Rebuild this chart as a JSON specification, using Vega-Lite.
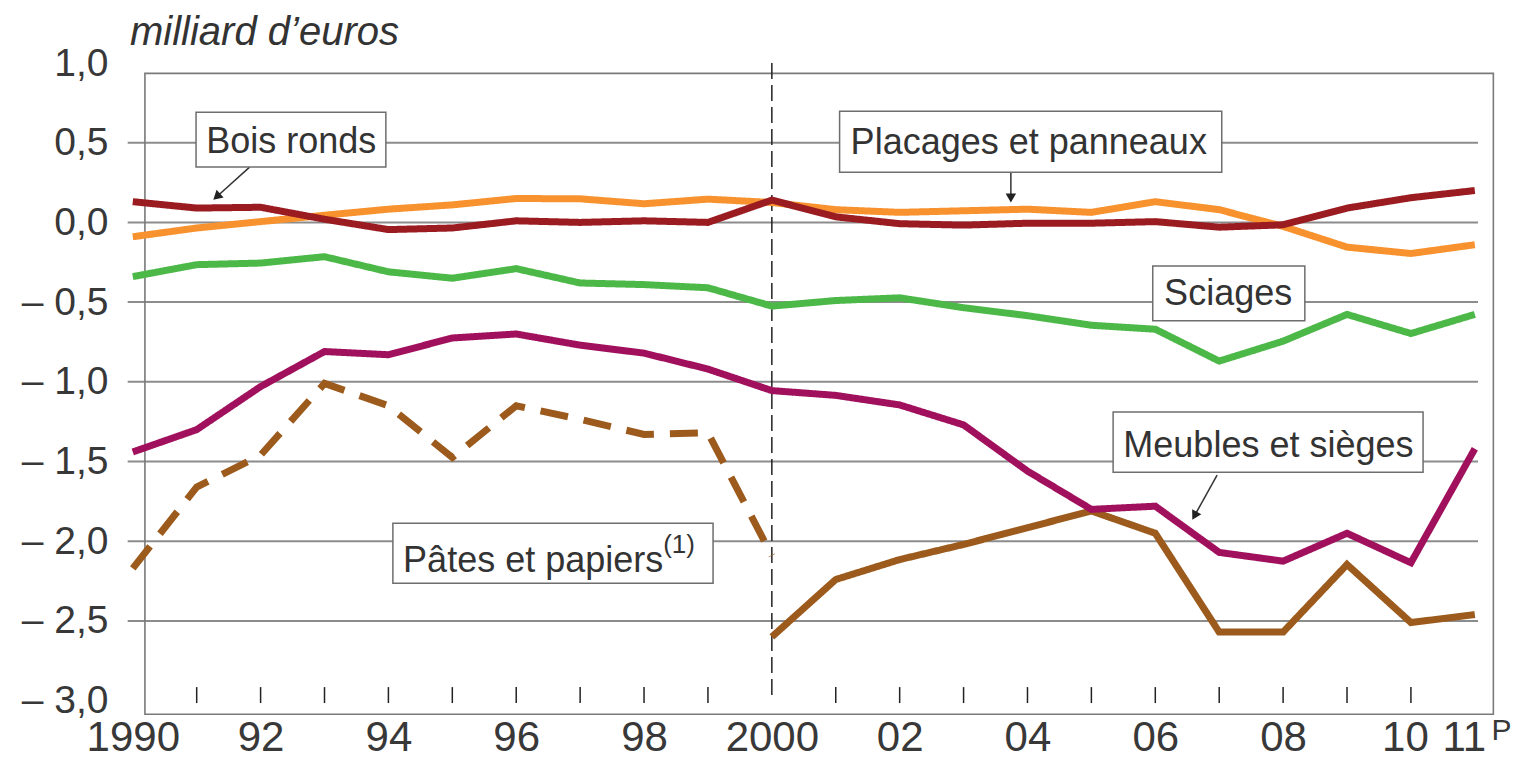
{
  "$schema": "https://vega.github.io/schema/vega-lite/v6.json",
  "width": 1374,
  "height": 652,
  "autosize": "none",
  "padding": {"left": 120, "top": 63, "right": 22, "bottom": 45},
  "background": "white",
  "config": {"view": {"stroke": null}, "font": "Liberation Sans"},
  "datasets": {
    "series": [
      {"annee": 1990, "serie": "Placages et panneaux", "valeur": -0.09},
      {"annee": 1991, "serie": "Placages et panneaux", "valeur": -0.035},
      {"annee": 1992, "serie": "Placages et panneaux", "valeur": 0.005},
      {"annee": 1993, "serie": "Placages et panneaux", "valeur": 0.045},
      {"annee": 1994, "serie": "Placages et panneaux", "valeur": 0.083},
      {"annee": 1995, "serie": "Placages et panneaux", "valeur": 0.11},
      {"annee": 1996, "serie": "Placages et panneaux", "valeur": 0.15},
      {"annee": 1997, "serie": "Placages et panneaux", "valeur": 0.148},
      {"annee": 1998, "serie": "Placages et panneaux", "valeur": 0.117},
      {"annee": 1999, "serie": "Placages et panneaux", "valeur": 0.146},
      {"annee": 2000, "serie": "Placages et panneaux", "valeur": 0.125},
      {"annee": 2001, "serie": "Placages et panneaux", "valeur": 0.08},
      {"annee": 2002, "serie": "Placages et panneaux", "valeur": 0.063},
      {"annee": 2003, "serie": "Placages et panneaux", "valeur": 0.073},
      {"annee": 2004, "serie": "Placages et panneaux", "valeur": 0.083},
      {"annee": 2005, "serie": "Placages et panneaux", "valeur": 0.063},
      {"annee": 2006, "serie": "Placages et panneaux", "valeur": 0.13},
      {"annee": 2007, "serie": "Placages et panneaux", "valeur": 0.08},
      {"annee": 2008, "serie": "Placages et panneaux", "valeur": -0.025},
      {"annee": 2009, "serie": "Placages et panneaux", "valeur": -0.155},
      {"annee": 2010, "serie": "Placages et panneaux", "valeur": -0.195},
      {"annee": 2011, "serie": "Placages et panneaux", "valeur": -0.14},
      {"annee": 1990, "serie": "Sciages", "valeur": -0.34},
      {"annee": 1991, "serie": "Sciages", "valeur": -0.265},
      {"annee": 1992, "serie": "Sciages", "valeur": -0.255},
      {"annee": 1993, "serie": "Sciages", "valeur": -0.215},
      {"annee": 1994, "serie": "Sciages", "valeur": -0.31},
      {"annee": 1995, "serie": "Sciages", "valeur": -0.35},
      {"annee": 1996, "serie": "Sciages", "valeur": -0.29},
      {"annee": 1997, "serie": "Sciages", "valeur": -0.38},
      {"annee": 1998, "serie": "Sciages", "valeur": -0.39},
      {"annee": 1999, "serie": "Sciages", "valeur": -0.41},
      {"annee": 2000, "serie": "Sciages", "valeur": -0.525},
      {"annee": 2001, "serie": "Sciages", "valeur": -0.49},
      {"annee": 2002, "serie": "Sciages", "valeur": -0.473},
      {"annee": 2003, "serie": "Sciages", "valeur": -0.535},
      {"annee": 2004, "serie": "Sciages", "valeur": -0.585},
      {"annee": 2005, "serie": "Sciages", "valeur": -0.645},
      {"annee": 2006, "serie": "Sciages", "valeur": -0.67},
      {"annee": 2007, "serie": "Sciages", "valeur": -0.87},
      {"annee": 2008, "serie": "Sciages", "valeur": -0.745},
      {"annee": 2009, "serie": "Sciages", "valeur": -0.577},
      {"annee": 2010, "serie": "Sciages", "valeur": -0.697},
      {"annee": 2011, "serie": "Sciages", "valeur": -0.577},
      {"annee": 1990, "serie": "Pâtes et papiers 1990-2000", "valeur": -2.17},
      {"annee": 1991, "serie": "Pâtes et papiers 1990-2000", "valeur": -1.66},
      {"annee": 1992, "serie": "Pâtes et papiers 1990-2000", "valeur": -1.46},
      {"annee": 1993, "serie": "Pâtes et papiers 1990-2000", "valeur": -1.01},
      {"annee": 1994, "serie": "Pâtes et papiers 1990-2000", "valeur": -1.15},
      {"annee": 1995, "serie": "Pâtes et papiers 1990-2000", "valeur": -1.475},
      {"annee": 1996, "serie": "Pâtes et papiers 1990-2000", "valeur": -1.15},
      {"annee": 1997, "serie": "Pâtes et papiers 1990-2000", "valeur": -1.235},
      {"annee": 1998, "serie": "Pâtes et papiers 1990-2000", "valeur": -1.33},
      {"annee": 1999, "serie": "Pâtes et papiers 1990-2000", "valeur": -1.32},
      {"annee": 2000, "serie": "Pâtes et papiers 1990-2000", "valeur": -2.09},
      {"annee": 2000, "serie": "Pâtes et papiers 2000-2011", "valeur": -2.6},
      {"annee": 2001, "serie": "Pâtes et papiers 2000-2011", "valeur": -2.24},
      {"annee": 2002, "serie": "Pâtes et papiers 2000-2011", "valeur": -2.115},
      {"annee": 2003, "serie": "Pâtes et papiers 2000-2011", "valeur": -2.02},
      {"annee": 2004, "serie": "Pâtes et papiers 2000-2011", "valeur": -1.915},
      {"annee": 2005, "serie": "Pâtes et papiers 2000-2011", "valeur": -1.81},
      {"annee": 2006, "serie": "Pâtes et papiers 2000-2011", "valeur": -1.95},
      {"annee": 2007, "serie": "Pâtes et papiers 2000-2011", "valeur": -2.57},
      {"annee": 2008, "serie": "Pâtes et papiers 2000-2011", "valeur": -2.57},
      {"annee": 2009, "serie": "Pâtes et papiers 2000-2011", "valeur": -2.146},
      {"annee": 2010, "serie": "Pâtes et papiers 2000-2011", "valeur": -2.51},
      {"annee": 2011, "serie": "Pâtes et papiers 2000-2011", "valeur": -2.46},
      {"annee": 1990, "serie": "Bois ronds", "valeur": 0.13},
      {"annee": 1991, "serie": "Bois ronds", "valeur": 0.09},
      {"annee": 1992, "serie": "Bois ronds", "valeur": 0.095},
      {"annee": 1993, "serie": "Bois ronds", "valeur": 0.02},
      {"annee": 1994, "serie": "Bois ronds", "valeur": -0.045},
      {"annee": 1995, "serie": "Bois ronds", "valeur": -0.035},
      {"annee": 1996, "serie": "Bois ronds", "valeur": 0.01},
      {"annee": 1997, "serie": "Bois ronds", "valeur": 0.0},
      {"annee": 1998, "serie": "Bois ronds", "valeur": 0.01},
      {"annee": 1999, "serie": "Bois ronds", "valeur": 0.0},
      {"annee": 2000, "serie": "Bois ronds", "valeur": 0.14},
      {"annee": 2001, "serie": "Bois ronds", "valeur": 0.035},
      {"annee": 2002, "serie": "Bois ronds", "valeur": -0.008},
      {"annee": 2003, "serie": "Bois ronds", "valeur": -0.017},
      {"annee": 2004, "serie": "Bois ronds", "valeur": -0.005},
      {"annee": 2005, "serie": "Bois ronds", "valeur": -0.005},
      {"annee": 2006, "serie": "Bois ronds", "valeur": 0.005},
      {"annee": 2007, "serie": "Bois ronds", "valeur": -0.03},
      {"annee": 2008, "serie": "Bois ronds", "valeur": -0.015},
      {"annee": 2009, "serie": "Bois ronds", "valeur": 0.09},
      {"annee": 2010, "serie": "Bois ronds", "valeur": 0.155},
      {"annee": 2011, "serie": "Bois ronds", "valeur": 0.2},
      {"annee": 1990, "serie": "Meubles et sièges", "valeur": -1.44},
      {"annee": 1991, "serie": "Meubles et sièges", "valeur": -1.3},
      {"annee": 1992, "serie": "Meubles et sièges", "valeur": -1.03},
      {"annee": 1993, "serie": "Meubles et sièges", "valeur": -0.81},
      {"annee": 1994, "serie": "Meubles et sièges", "valeur": -0.83},
      {"annee": 1995, "serie": "Meubles et sièges", "valeur": -0.725},
      {"annee": 1996, "serie": "Meubles et sièges", "valeur": -0.7},
      {"annee": 1997, "serie": "Meubles et sièges", "valeur": -0.77},
      {"annee": 1998, "serie": "Meubles et sièges", "valeur": -0.82},
      {"annee": 1999, "serie": "Meubles et sièges", "valeur": -0.92},
      {"annee": 2000, "serie": "Meubles et sièges", "valeur": -1.055},
      {"annee": 2001, "serie": "Meubles et sièges", "valeur": -1.085},
      {"annee": 2002, "serie": "Meubles et sièges", "valeur": -1.145},
      {"annee": 2003, "serie": "Meubles et sièges", "valeur": -1.27},
      {"annee": 2004, "serie": "Meubles et sièges", "valeur": -1.56},
      {"annee": 2005, "serie": "Meubles et sièges", "valeur": -1.8},
      {"annee": 2006, "serie": "Meubles et sièges", "valeur": -1.78},
      {"annee": 2007, "serie": "Meubles et sièges", "valeur": -2.07},
      {"annee": 2008, "serie": "Meubles et sièges", "valeur": -2.125},
      {"annee": 2009, "serie": "Meubles et sièges", "valeur": -1.95},
      {"annee": 2010, "serie": "Meubles et sièges", "valeur": -2.135},
      {"annee": 2011, "serie": "Meubles et sièges", "valeur": -1.42}
    ],
    "grille": [
      {"niveau": 0.5}, {"niveau": 0.0}, {"niveau": -0.5}, {"niveau": -1.0},
      {"niveau": -1.5}, {"niveau": -2.0}, {"niveau": -2.5}
    ],
    "graduations": [
      {"annee": 1991}, {"annee": 1992}, {"annee": 1993}, {"annee": 1994}, {"annee": 1995},
      {"annee": 1996}, {"annee": 1997}, {"annee": 1998}, {"annee": 1999}, {"annee": 2001},
      {"annee": 2002}, {"annee": 2003}, {"annee": 2004}, {"annee": 2005}, {"annee": 2006},
      {"annee": 2007}, {"annee": 2008}, {"annee": 2009}, {"annee": 2010}
    ]
  },
  "layer": [
    {
      "data": {"name": "grille"},
      "mark": {"type": "rule", "stroke": "#8c8c8c", "strokeWidth": 2},
      "encoding": {
        "y": {"field": "niveau", "type": "quantitative"},
        "x": {"datum": 1989.92, "type": "quantitative"},
        "x2": {"datum": 2011.05}
      }
    },
    {
      "data": {"values": [{}]},
      "mark": {"type": "rect", "fillOpacity": 0, "stroke": "#7a7a7a", "strokeWidth": 1.6},
      "encoding": {
        "x": {"datum": 1990.19, "type": "quantitative"},
        "x2": {"datum": 2011.29},
        "y": {"datum": 0.935, "type": "quantitative"},
        "y2": {"datum": -3.085}
      }
    },
    {
      "data": {"name": "graduations"},
      "mark": {"type": "rule", "stroke": "#222", "strokeWidth": 1.5},
      "encoding": {
        "x": {"field": "annee", "type": "quantitative"},
        "y": {"datum": -2.915, "type": "quantitative"},
        "y2": {"datum": -3.015}
      }
    },
    {
      "data": {"values": [{}]},
      "mark": {"type": "rule", "stroke": "#222", "strokeWidth": 1.5, "strokeDash": [16, 6]},
      "encoding": {
        "x": {"datum": 2000, "type": "quantitative"},
        "y": {"datum": 1.0, "type": "quantitative"},
        "y2": {"datum": -3.0}
      }
    },
    {
      "data": {"name": "series"},
      "mark": {"type": "line", "strokeWidth": 7, "strokeCap": "butt"},
      "encoding": {
        "x": {
          "field": "annee",
          "type": "quantitative",
          "scale": {"domain": [1989.8, 2011.3], "nice": false, "zero": false},
          "axis": {
            "values": [1990, 1992, 1994, 1996, 1998, 2000, 2002, 2004, 2006, 2008, 2010, 2011],
            "labelExpr": "datum.value == 1990 || datum.value == 2000 ? format(datum.value, 'd') : slice(format(datum.value, 'd'), 2)",
            "title": null,
            "grid": false,
            "ticks": false,
            "domain": false,
            "labelFont": "Liberation Sans",
            "labelFontSize": 42,
            "labelColor": "#383838",
            "labelPadding": 2,
            "labelOverlap": false,
            "labelFlush": false,
            "labelOffset": {"condition": [{"test": "datum.value == 2011", "value": -11}, {"test": "datum.value == 2010", "value": -6}], "value": 0}
          }
        },
        "y": {
          "field": "valeur",
          "type": "quantitative",
          "scale": {"domain": [-3.09, 1.0], "nice": false, "zero": false},
          "axis": {
            "values": [1, 0.5, 0, -0.5, -1, -1.5, -2, -2.5, -3],
            "labelExpr": "(datum.value < 0 ? '– ' : '') + replace(format(abs(datum.value), '.1f'), '.', ',')",
            "title": null,
            "grid": false,
            "ticks": false,
            "domain": false,
            "labelFontSize": 39,
            "labelColor": "#383838",
            "labelPadding": 12,
            "labelOverlap": false,
            "labelFlush": false
          }
        },
        "color": {
          "field": "serie",
          "type": "nominal",
          "legend": null,
          "scale": {
            "domain": ["Placages et panneaux", "Sciages", "Pâtes et papiers 1990-2000", "Pâtes et papiers 2000-2011", "Bois ronds", "Meubles et sièges"],
            "range": ["#f7922f", "#4cb848", "#9c5a1c", "#9c5a1c", "#9a1b20", "#a0105d"]
          }
        },
        "strokeDash": {
          "field": "serie",
          "type": "nominal",
          "legend": null,
          "scale": {
            "domain": ["Placages et panneaux", "Sciages", "Pâtes et papiers 1990-2000", "Pâtes et papiers 2000-2011", "Bois ronds", "Meubles et sièges"],
            "range": [[1, 0], [1, 0], [28, 16], [1, 0], [1, 0], [1, 0]]
          }
        }
      }
    },
    {
      "data": {"values": [{}]},
      "mark": {"type": "rule", "stroke": "#333", "strokeWidth": 1.5},
      "encoding": {
        "x": {"datum": 1991.828, "type": "quantitative"},
        "y": {"datum": 0.347, "type": "quantitative"},
        "x2": {"datum": 1991.313},
        "y2": {"datum": 0.161}
      }
    },
    {
      "data": {"values": [{}]},
      "mark": {"type": "point", "shape": "triangle-down", "filled": true, "color": "#222", "size": 110, "opacity": 1, "angle": 48},
      "encoding": {
        "x": {"datum": 1991.313, "type": "quantitative"},
        "y": {"datum": 0.161, "type": "quantitative"}
      }
    },
    {
      "data": {"values": [{}]},
      "mark": {"type": "rule", "stroke": "#333", "strokeWidth": 1.5},
      "encoding": {
        "x": {"datum": 2003.74, "type": "quantitative"},
        "y": {"datum": 0.315, "type": "quantitative"},
        "y2": {"datum": 0.153}
      }
    },
    {
      "data": {"values": [{}]},
      "mark": {"type": "point", "shape": "triangle-down", "filled": true, "color": "#222", "size": 110, "opacity": 1},
      "encoding": {
        "x": {"datum": 2003.74, "type": "quantitative"},
        "y": {"datum": 0.153, "type": "quantitative"}
      }
    },
    {
      "data": {"values": [{}]},
      "mark": {"type": "rule", "stroke": "#333", "strokeWidth": 1.5},
      "encoding": {
        "x": {"datum": 2006.967, "type": "quantitative"},
        "y": {"datum": -1.585, "type": "quantitative"},
        "x2": {"datum": 2006.614},
        "y2": {"datum": -1.84}
      }
    },
    {
      "data": {"values": [{}]},
      "mark": {"type": "point", "shape": "triangle-down", "filled": true, "color": "#222", "size": 110, "opacity": 1, "angle": 29},
      "encoding": {
        "x": {"datum": 2006.614, "type": "quantitative"},
        "y": {"datum": -1.84, "type": "quantitative"}
      }
    },
    {
      "data": {"values": [{}]},
      "mark": {"type": "rect", "fill": "white", "stroke": "#6e6e6e", "strokeWidth": 1.5},
      "encoding": {
        "x": {"datum": 1990.99, "type": "quantitative"},
        "x2": {"datum": 1993.96},
        "y": {"datum": 0.691, "type": "quantitative"},
        "y2": {"datum": 0.347}
      }
    },
    {
      "data": {"values": [{}]},
      "mark": {"type": "rect", "fill": "white", "stroke": "#6e6e6e", "strokeWidth": 1.5},
      "encoding": {
        "x": {"datum": 2001.06, "type": "quantitative"},
        "x2": {"datum": 2007.04},
        "y": {"datum": 0.698, "type": "quantitative"},
        "y2": {"datum": 0.315}
      }
    },
    {
      "data": {"values": [{}]},
      "mark": {"type": "rect", "fill": "white", "stroke": "#6e6e6e", "strokeWidth": 1.5},
      "encoding": {
        "x": {"datum": 2005.96, "type": "quantitative"},
        "x2": {"datum": 2008.34},
        "y": {"datum": -0.274, "type": "quantitative"},
        "y2": {"datum": -0.617}
      }
    },
    {
      "data": {"values": [{}]},
      "mark": {"type": "rect", "fill": "white", "stroke": "#6e6e6e", "strokeWidth": 1.5},
      "encoding": {
        "x": {"datum": 2005.34, "type": "quantitative"},
        "x2": {"datum": 2010.19},
        "y": {"datum": -1.19, "type": "quantitative"},
        "y2": {"datum": -1.567}
      }
    },
    {
      "data": {"values": [{}]},
      "mark": {"type": "rect", "fill": "white", "stroke": "#6e6e6e", "strokeWidth": 1.5},
      "encoding": {
        "x": {"datum": 1994.07, "type": "quantitative"},
        "x2": {"datum": 1999.08},
        "y": {"datum": -1.887, "type": "quantitative"},
        "y2": {"datum": -2.263}
      }
    },
    {
      "data": {"values": [{}]},
      "mark": {"type": "text", "text": "Bois ronds", "fontSize": 36, "color": "#333", "align": "center", "baseline": "alphabetic"},
      "encoding": {
        "x": {"datum": 1992.48, "type": "quantitative"},
        "y": {"datum": 0.435, "type": "quantitative"}
      }
    },
    {
      "data": {"values": [{}]},
      "mark": {"type": "text", "text": "Placages et panneaux", "fontSize": 36, "color": "#333", "align": "center", "baseline": "alphabetic"},
      "encoding": {
        "x": {"datum": 2004.02, "type": "quantitative"},
        "y": {"datum": 0.428, "type": "quantitative"}
      }
    },
    {
      "data": {"values": [{}]},
      "mark": {"type": "text", "text": "Sciages", "fontSize": 36, "color": "#333", "align": "center", "baseline": "alphabetic"},
      "encoding": {
        "x": {"datum": 2007.14, "type": "quantitative"},
        "y": {"datum": -0.519, "type": "quantitative"}
      }
    },
    {
      "data": {"values": [{}]},
      "mark": {"type": "text", "text": "Meubles et sièges", "fontSize": 36, "color": "#333", "align": "center", "baseline": "alphabetic"},
      "encoding": {
        "x": {"datum": 2007.77, "type": "quantitative"},
        "y": {"datum": -1.47, "type": "quantitative"}
      }
    },
    {
      "data": {"values": [{}]},
      "mark": {"type": "text", "text": "Pâtes et papiers", "fontSize": 36, "color": "#333", "align": "left", "baseline": "alphabetic"},
      "encoding": {
        "x": {"datum": 1994.23, "type": "quantitative"},
        "y": {"datum": -2.192, "type": "quantitative"}
      }
    },
    {
      "data": {"values": [{}]},
      "mark": {"type": "text", "text": "(1)", "fontSize": 26, "color": "#333", "align": "left", "baseline": "alphabetic"},
      "encoding": {
        "x": {"datum": 1998.3, "type": "quantitative"},
        "y": {"datum": -2.075, "type": "quantitative"}
      }
    },
    {
      "data": {"values": [{}]},
      "mark": {"type": "text", "text": "P", "fontSize": 30, "color": "#383838", "align": "left", "baseline": "alphabetic"},
      "encoding": {
        "x": {"datum": 2011.26, "type": "quantitative"},
        "y": {"datum": -3.248, "type": "quantitative"}
      }
    },
    {
      "data": {"values": [{}]},
      "mark": {"type": "text", "text": "milliard d’euros", "fontSize": 40, "fontStyle": "italic", "color": "#333", "align": "left", "baseline": "alphabetic"},
      "encoding": {
        "x": {"datum": 1989.956, "type": "quantitative"},
        "y": {"datum": 1.112, "type": "quantitative"}
      }
    }
  ]
}
